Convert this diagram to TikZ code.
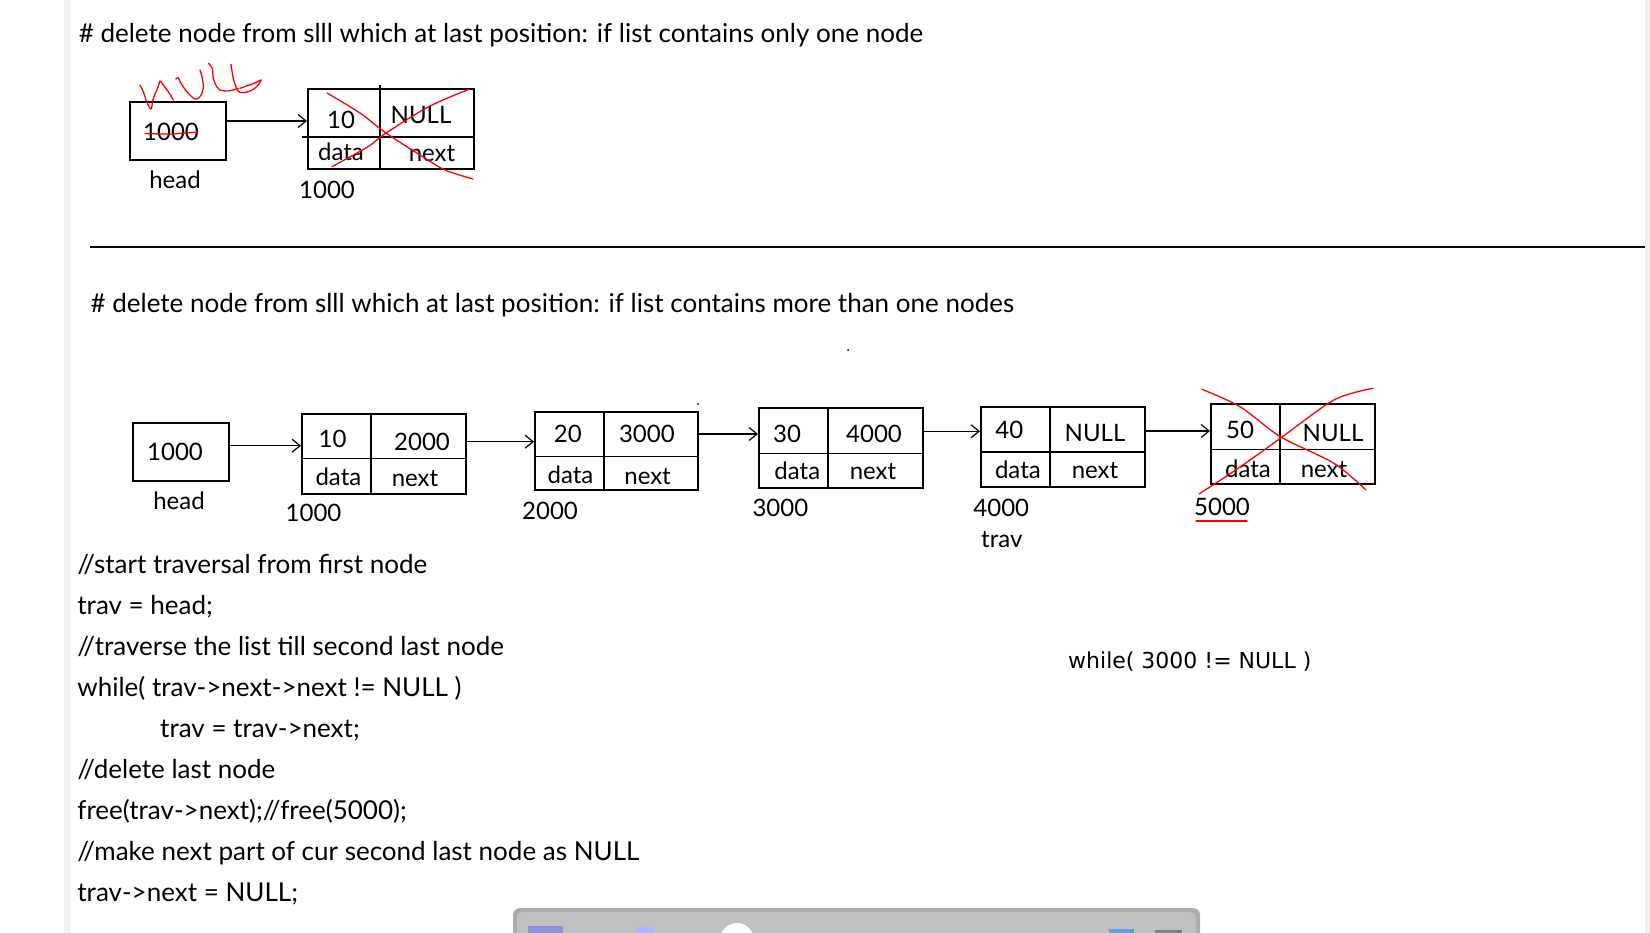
\documentclass[tikz,border=0pt]{standalone}
\usepackage{fontspec}
\setmainfont{Lato}
\newfontfamily\loopfont{DejaVu Sans}
\usetikzlibrary{arrows.meta}
\definecolor{stripgray}{HTML}{F0F0F0}
\definecolor{barout}{HTML}{ACACAC}
\definecolor{barin}{HTML}{C0C0C0}

\tikzset{
	listbox/.style={draw,line width=2pt,minimum width=164pt,minimum height=80pt,anchor=north west,inner sep=0pt},
	headbox/.style={draw,line width=2pt,minimum width=96pt,minimum height=58pt,anchor=north west,inner sep=0pt},
	divider/.style={line width=1.1pt},
	link/.style={line width=1.2pt,-{Straight Barb[length=8pt,width=13pt,line width=1.2pt]}},
	pen/.style={red,line width=1.3pt,line cap=round,line join=round},
	lbl/.style={inner sep=0pt},
	codeline/.style={anchor=base west,inner sep=0pt,font=\fontsize{26}{30}\selectfont}
}

\begin{document}
\begin{tikzpicture}[x=1pt,y=-1pt,font=\fontsize{24}{28}\selectfont]
		\useasboundingbox (0,0) rectangle (1650,933);
		\fill[white] (0,0) rectangle (1650,933);
		\fill[stripgray] (63.5,0) rectangle (69.5,933);
		\fill[stripgray] (1645,0) rectangle (1650,933);

		% list with only one node
		\node[codeline] (title1) at (78.6,42.7) {\# delete node from slll which at last position: if list contains only one node};
		\node[headbox] (headA) at (128.6,101) {};
		\node[lbl] (headAval) at (171,131.7) {1000};
		\node[lbl] (headAname) at (175,180) {head};
		\node[listbox,minimum width=166pt] (nodeA) at (307,87.7) {};
		\draw[divider] (380,85) -- (380,168.3);
		\draw[divider] (302,137) -- (474,137);
		\node[lbl] (nodeAdata) at (341,120) {10};
		\node[lbl] (nodeAnext) at (421,115) {NULL};
		\node[lbl] at (341,151.7) {data};
		\node[lbl] at (432,154) {next};
		\node[lbl] (nodeAaddr) at (327,190) {1000};
		\coordinate (aA) at ([yshift=10pt]headA.east);
		\draw[link] (aA) -- (aA -| nodeA.west);

		% red pen marks
		\draw[pen] plot[smooth] coordinates {(145,133.5) (170,134) (198,132)};
		\draw[pen] plot[smooth,tension=0.6] coordinates {(140,85) (143.3,91.7) (146.7,101.7) (151,109) (153.3,98.3) (158.3,86.7) (160,81) (163.3,85) (168.3,91.7) (173.3,100)};
		\draw[pen] plot[smooth,tension=0.6] coordinates {(175.7,79) (178.3,77.7) (180,81.7) (184.3,88.3) (188.3,93.3) (195,99) (200,96.7) (203.3,88.3) (202.3,78.3) (200,70)};
		\draw[pen] plot[smooth,tension=0.6] coordinates {(208.3,63.3) (212.3,68.3) (213.3,78.3) (216.7,86.7) (220,90) (228.3,91) (238.3,88.3)};
		\draw[pen] plot[smooth,tension=0.6] coordinates {(231,64.3) (233.3,78.3) (236.7,88.3) (240,92.3) (248.3,91.7) (256.7,86.7) (261,80) (254.3,83.3) (240,88.3)};
		\draw[pen] plot[smooth] coordinates {(327,93) (360,113) (386,133) (420,155) (445,170) (473,179)};
		\draw[pen] plot[smooth] coordinates {(332,166.7) (368,146.7) (385.7,133.3) (428.6,106.7) (469,89.3)};

		\draw[line width=1.4pt] (90,247) -- (1645,247);

		% list with more than one node
		\node[codeline] (title2) at (90.4,312.7) {\# delete node from slll which at last position: if list contains more than one nodes};
		\node[headbox] (headB) at (131.6,421.7) {};
		\node[lbl] (headBval) at (175,451.7) {1000};
		\node[lbl] (headBname) at (179,500.7) {head};
		\node[listbox] (n1) at (301,412.7) {};
		\node[listbox,minimum width=162.5pt,minimum height=78.6pt] (n2) at (534,410.7) {};
		\node[listbox] (n3) at (758,407.3) {};
		\node[listbox] (n4) at (980,406) {};
		\node[listbox] (n5) at (1210,403.3) {};
		\foreach \n in {n1,n2,n3,n4,n5} {
			\draw[divider] ([xshift=70pt]\n.north west) -- ([xshift=70pt]\n.south west);
			\draw[divider] ([yshift=-46pt]\n.north west) -- ([yshift=-46pt]\n.north east);
		}
		\node[lbl] at (332.5,439.3) {10};
		\node[lbl] at (422,441.7) {2000};
		\node[lbl] at (338.4,476.7) {data};
		\node[lbl] at (415,478.3) {next};
		\node[lbl] (n1addr) at (313.5,513.3) {1000};
		\node[lbl] at (567.8,434.3) {20};
		\node[lbl] at (646.9,434.3) {3000};
		\node[lbl] at (570.5,475) {data};
		\node[lbl] at (647.6,476.7) {next};
		\node[lbl] (n2addr) at (550,511) {2000};
		\node[lbl] at (787,434) {30};
		\node[lbl] at (874,434) {4000};
		\node[lbl] at (797.3,471) {data};
		\node[lbl] at (873,471.7) {next};
		\node[lbl] (n3addr) at (780.4,508.3) {3000};
		\node[lbl] at (1009.4,430) {40};
		\node[lbl] at (1095,433.3) {NULL};
		\node[lbl] at (1017.9,470) {data};
		\node[lbl] at (1095,471) {next};
		\node[lbl] (n4addr) at (1001.3,508.3) {4000};
		\node[lbl] (trav) at (1001.8,540) {trav};
		\node[lbl] at (1240,430) {50};
		\node[lbl] at (1333,433.3) {NULL};
		\node[lbl] at (1248,468.3) {data};
		\node[lbl] at (1324,470) {next};
		\node[lbl] (n5addr) at (1222,506.7) {5000};
		\coordinate (aB) at ([yshift=6pt]headB.east);
		\coordinate (a1) at ([yshift=12pt]n1.east);
		\coordinate (a2) at ([yshift=17pt]n2.east);
		\coordinate (a3) at ([yshift=17pt]n3.east);
		\coordinate (a4) at ([yshift=16pt]n4.east);
		\draw[link] (aB) -- (aB -| n1.west);
		\draw[link] (a1) -- (a1 -| n2.west);
		\draw[link] (a2) -- (a2 -| n3.west);
		\draw[link] (a3) -- (a3 -| n4.west);
		\draw[link] (a4) -- (a4 -| n5.west);
		\fill (698,404) circle (1pt);
		\fill (848,350) circle (1pt);

		% last node crossed out
		\draw[pen] plot[smooth] coordinates {(1202,389.3) (1240,406.7) (1280.4,436.7) (1333.9,463.3) (1366,490)};
		\draw[pen] plot[smooth] coordinates {(1199,494) (1235.7,470) (1280.4,438.3) (1333.9,400) (1373,388.3)};
		\draw[pen] (1196,521) -- (1247,521);

		% code
		\node[codeline] (c1) at (77.2,573.5) {//start traversal from first node};
		\node[codeline] (c2) at (77.2,614.5) {trav = head;};
		\node[codeline] (c3) at (77.2,655.5) {//traverse the list till second last node};
		\node[codeline] (c4) at (77.2,696.5) {while( trav->next->next != NULL )};
		\node[codeline] (c5) at (160,737.5) {trav = trav->next;};
		\node[codeline] (c6) at (77.2,778.5) {//delete last node};
		\node[codeline] (c7) at (77.2,819.5) {free(trav->next);//free(5000);};
		\node[codeline] (c8) at (77.2,860.5) {//make next part of cur second last node as NULL};
		\node[codeline] (c9) at (77.2,901.5) {trav->next = NULL;};
		\node[codeline,font=\loopfont\fontsize{22}{26}\selectfont] (check) at (1068,668.3) {while( 3000 != NULL )};

		% toolbar
		\fill[barout,rounded corners=7pt] (513,908) rectangle (1200,950);
		\fill[barin,rounded corners=5pt] (517,912) rectangle (1196,950);
		\fill[white] (737,940) circle (17pt);
		\fill[blue!45!gray!60] (528,926) rectangle (563,933);
		\fill[blue!30!white] (636,927) rectangle (654,933);
		\fill[cyan!50!blue!60] (1109,929) rectangle (1134,933);
		\fill[gray] (1155,930) rectangle (1182,933);
	\end{tikzpicture}
\end{document}
